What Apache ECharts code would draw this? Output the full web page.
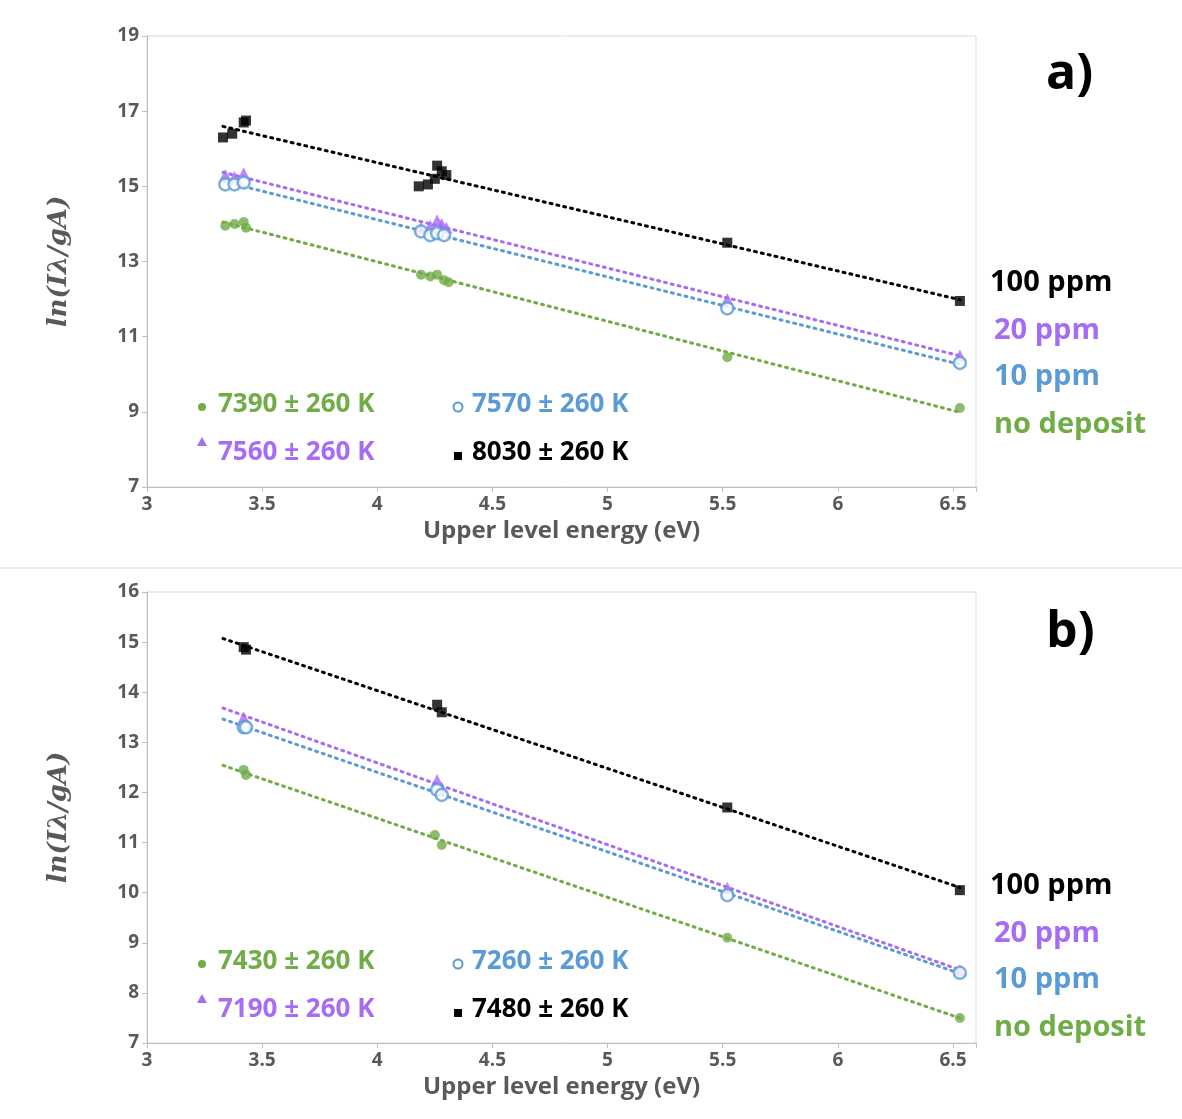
<!DOCTYPE html>
<html><head><meta charset="utf-8">
<script src="https://cdn.jsdelivr.net/npm/echarts@6/dist/echarts.min.js"></script>
<style>html,body{margin:0;background:#fff}#chart{width:1182px;height:1119px}</style>
</head><body><div id="chart"></div>
<script>
// panel a) data  [energy eV, ln(I·λ/gA)]
const aNoDeposit = [[3.34,13.95],[3.38,14.0],[3.42,14.05],[3.43,13.9],[4.19,12.65],[4.23,12.6],[4.26,12.65],[4.29,12.5],[4.31,12.45],[5.52,10.45],[6.53,9.1]];
const a10ppm = [[3.34,15.05],[3.38,15.05],[3.42,15.1],[4.19,13.8],[4.23,13.7],[4.26,13.75],[4.29,13.7],[5.52,11.75],[6.53,10.3]];
const a20ppm = [[3.34,15.3],[3.38,15.25],[3.42,15.35],[4.19,13.9],[4.23,13.95],[4.26,14.1],[4.28,14.0],[4.30,13.9],[5.52,12.0],[6.53,10.5]];
const a100ppm = [[3.33,16.3],[3.37,16.4],[3.42,16.7],[3.43,16.75],[4.18,15.0],[4.22,15.05],[4.25,15.2],[4.26,15.55],[4.28,15.4],[4.30,15.3],[5.52,13.5],[6.53,11.95]];
// panel b)
const bNoDeposit = [[3.42,12.45],[3.43,12.35],[4.25,11.15],[4.28,10.95],[5.52,9.1],[6.53,7.5]];
const b10ppm = [[3.42,13.3],[3.43,13.3],[4.26,12.05],[4.28,11.95],[5.52,9.95],[6.53,8.4]];
const b20ppm = [[3.42,13.5],[4.26,12.25],[4.28,12.1],[5.52,10.1],[6.53,8.45]];
const b100ppm = [[3.42,14.9],[3.43,14.85],[4.26,13.75],[4.28,13.6],[5.52,11.7],[6.53,10.05]];
const tempsA = ['7390 ± 260 K','7570 ± 260 K','7560 ± 260 K','8030 ± 260 K'];
const tempsB = ['7430 ± 260 K','7260 ± 260 K','7190 ± 260 K','7480 ± 260 K'];
const xTicks = [3,3.5,4,4.5,5,5.5,6,6.5];

const GREEN='#70ad47', BLUE='#5b9bd5', PURPLE='#a66cf5', BLACK='#000';

function fit(pts){ // least squares trendline
  const n=pts.length; let sx=0,sy=0,sxx=0,sxy=0;
  pts.forEach(([x,y])=>{sx+=x;sy+=y;sxx+=x*x;sxy+=x*y;});
  const m=(n*sxy-sx*sy)/(n*sxx-sx*sx), b=(sy-m*sx)/n;
  return [[3.33,m*3.33+b],[6.53,m*6.53+b]];
}
function pts(data,g,color,symbol,hollow){
  return {type:'scatter',xAxisIndex:g,yAxisIndex:g,data,symbol,symbolSize:hollow?12:(symbol==='triangle'?12:10),
    itemStyle:{color:hollow?'#fff':color,borderColor:color,borderWidth:hollow?2.5:0},z:3};
}
function trend(data,g,color){
  return {type:'line',xAxisIndex:g,yAxisIndex:g,data:fit(data),symbol:'none',silent:true,
    lineStyle:{color,width:3,type:[2,5],cap:'round'},z:2};
}
const font='"Open Sans", "DejaVu Sans", sans-serif';
const ax = {axisLine:{show:true,lineStyle:{color:'#bfbfbf'}},axisTick:{show:true,length:5,lineStyle:{color:'#bfbfbf'}},
  axisLabel:{color:'#595959',fontSize:19,fontWeight:'bold',fontFamily:font},splitLine:{show:false}};
function xAxis(g){return Object.assign({},ax,{gridIndex:g,type:'value',min:3,max:6.6,interval:0.5,
  axisLabel:Object.assign({},ax.axisLabel,{formatter:v=>xTicks.includes(v)?String(v):''}),
  name:'Upper level energy (eV)',nameLocation:'middle',nameGap:32,
  nameTextStyle:{color:'#595959',fontSize:24,fontWeight:'bold',fontFamily:font}});}
function yAxis(g,min,max,iv){return Object.assign({},ax,{gridIndex:g,type:'value',min,max,interval:iv,
  name:'ln(Iλ/gA)',nameLocation:'middle',nameGap:75,
  nameTextStyle:{color:'#595959',fontSize:26,fontStyle:'italic',fontWeight:'bold',fontFamily:'"DejaVu Serif", serif'}});}

function txt(left,top,text,color,size){return {type:'text',left,top,style:{text,fill:color,font:'bold '+size+'px '+font}};}
function legend(top,temps){
  return [
    {type:'circle',shape:{cx:202,cy:top+15,r:4},style:{fill:GREEN}},
    txt(218,top,temps[0],GREEN,26),
    {type:'circle',shape:{cx:458,cy:top+15,r:4.5},style:{fill:'#fff',stroke:BLUE,lineWidth:2}},
    txt(472,top,temps[1],BLUE,26),
    {type:'polygon',shape:{points:[[202,top+45],[197,top+54],[207,top+54]]},style:{fill:PURPLE}},
    txt(218,top+48,temps[2],PURPLE,26),
    {type:'rect',shape:{x:454,y:top+60,width:8,height:8},style:{fill:BLACK}},
    txt(472,top+48,temps[3],BLACK,26)
  ];
}
function sideLabels(top){
  return [txt(990,top,'100 ppm',BLACK,29),txt(994,top+48,'20 ppm',PURPLE,29),
    txt(994,top+94,'10 ppm',BLUE,29),txt(994,top+142,'no deposit',GREEN,29)];
}

const chart = echarts.init(document.getElementById('chart'));
chart.setOption({
  backgroundColor:'#fff',
  animation:false,
  grid:[{left:147,right:206,top:36,bottom:632,show:true,borderColor:'#d9d9d9',borderWidth:1},
        {left:147,right:206,top:592,bottom:76,show:true,borderColor:'#d9d9d9',borderWidth:1}],
  xAxis:[xAxis(0),xAxis(1)],
  yAxis:[yAxis(0,7,19,2),yAxis(1,7,16,1)],
  series:[
    trend(aNoDeposit,0,GREEN),trend(a10ppm,0,BLUE),trend(a20ppm,0,PURPLE),trend(a100ppm,0,BLACK),
    pts(aNoDeposit,0,GREEN,'circle'),pts(a20ppm,0,PURPLE,'triangle'),pts(a10ppm,0,BLUE,'circle',true),pts(a100ppm,0,BLACK,'rect'),
    trend(bNoDeposit,1,GREEN),trend(b10ppm,1,BLUE),trend(b20ppm,1,PURPLE),trend(b100ppm,1,BLACK),
    pts(bNoDeposit,1,GREEN,'circle'),pts(b20ppm,1,PURPLE,'triangle'),pts(b10ppm,1,BLUE,'circle',true),pts(b100ppm,1,BLACK,'rect')
  ],
  graphic:[
    {type:'line',shape:{x1:0,y1:568,x2:1182,y2:568},style:{stroke:'#d9d9d9',lineWidth:1}},
    txt(1046,50,'a)',BLACK,50),txt(1046,608,'b)',BLACK,50),
    ...legend(392,tempsA),...legend(949,tempsB),
    ...sideLabels(268),...sideLabels(871)
  ]
});
</script></body></html>
